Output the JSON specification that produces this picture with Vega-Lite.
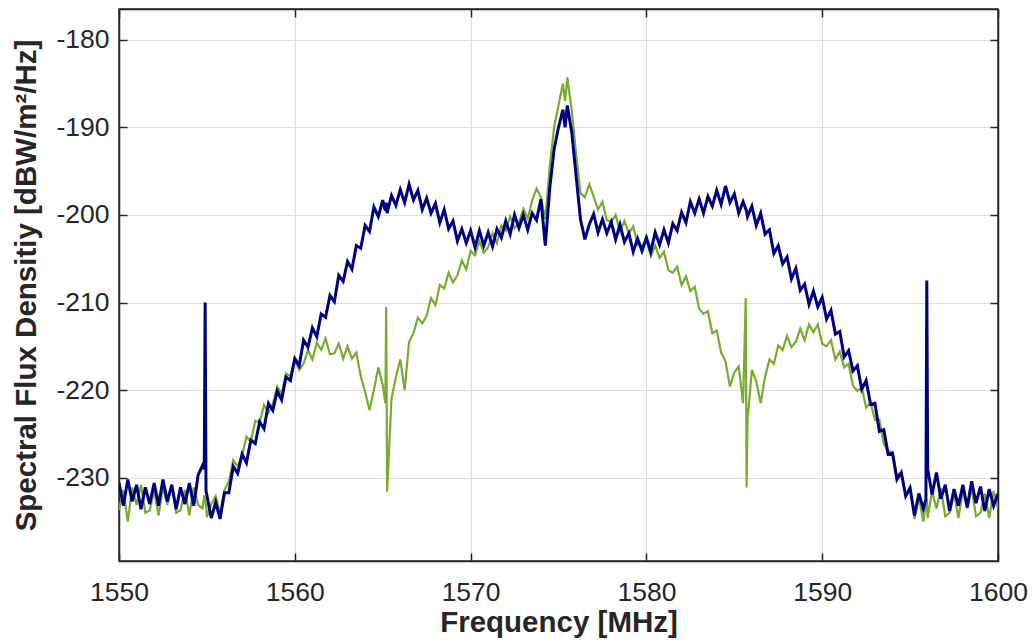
{
 "$schema": "https://vega.github.io/schema/vega-lite/v6.json",
 "width": 879, "height": 552,
 "autosize": "none",
 "padding": {"left": 119, "top": 9, "right": 36, "bottom": 81},
 "background": "white",
 "config": {
  "view": {"stroke": "#262626", "strokeWidth": 1.5},
  "axis": {
   "labelFont": "Liberation Sans", "labelFontSize": 26.5, "labelColor": "#262626",
   "titleFont": "Liberation Sans", "titleFontSize": 29.5, "titleFontWeight": "bold", "titleColor": "#262626",
   "domainColor": "#262626", "domainWidth": 1.5, "tickColor": "#262626", "tickWidth": 1.5, "tickSize": -8,
   "gridColor": "#dedede", "gridWidth": 1.2, "labelFlush": false, "labelBound": false, "labelOverlap": false,
   "labelExpr": "'' + datum.value"
  }
 },
 "data": {"values": [
{"f":1550,"b":-230.6,"g":-233.7},{"f":1550.25,"b":-233.2,"g":-231.4},{"f":1550.5,"b":-230.2,"g":-235.0},{"f":1550.75,"b":-232.7,"g":-231.1},
{"f":1551,"b":-230.8,"g":-233.1},{"f":1551.25,"b":-233.6,"g":-230.8},{"f":1551.5,"b":-231.1,"g":-234.0},{"f":1551.75,"b":-233.0,"g":-233.7},
{"f":1552,"b":-230.6,"g":-231.4},{"f":1552.25,"b":-233.2,"g":-234.3},{"f":1552.5,"b":-230.2,"g":-231.1},{"f":1552.75,"b":-232.7,"g":-233.1},
{"f":1553,"b":-230.8,"g":-230.8},{"f":1553.25,"b":-233.6,"g":-234.0},{"f":1553.5,"b":-231.1,"g":-233.7},{"f":1553.75,"b":-233.0,"g":-231.4},
{"f":1554,"b":-230.6,"g":-234.3},{"f":1554.25,"b":-233.2,"g":-231.1},{"f":1554.5,"b":-229.7,"g":-233.1},{"f":1554.75,"b":-228.6,"g":-233.5},
{"f":1554.85,"b":-229.0,"g":-232.0},{"f":1554.9,"b":-210.0,"g":-232.5},{"f":1554.95,"b":-231.5,"g":-233.0},
{"f":1555,"b":-232.0,"g":-234.5},{"f":1555.25,"b":-234.6,"g":-233.0},{"f":1555.5,"b":-232.8,"g":-232.1},{"f":1555.75,"b":-234.7,"g":-234.0},
{"f":1556,"b":-231.7,"g":-231.4},{"f":1556.25,"b":-231.7,"g":-230.4},{"f":1556.5,"b":-228.7,"g":-228.0},{"f":1556.75,"b":-229.5,"g":-228.7},
{"f":1557,"b":-227.3,"g":-227.5},{"f":1557.25,"b":-228.3,"g":-225.3},{"f":1557.5,"b":-225.7,"g":-225.9},{"f":1557.75,"b":-226.1,"g":-223.5},
{"f":1558,"b":-223.6,"g":-223.7},{"f":1558.25,"b":-224.4,"g":-221.7},{"f":1558.5,"b":-221.5,"g":-222.6},{"f":1558.75,"b":-222.3,"g":-221.6},
{"f":1559,"b":-220.1,"g":-219.6},{"f":1559.25,"b":-221.1,"g":-220.4},{"f":1559.5,"b":-218.5,"g":-218.1},{"f":1559.75,"b":-218.9,"g":-218.4},
{"f":1560,"b":-216.4,"g":-216.5},{"f":1560.25,"b":-217.2,"g":-217.7},{"f":1560.5,"b":-214.3,"g":-217.0},{"f":1560.75,"b":-215.1,"g":-215.4},
{"f":1561,"b":-212.9,"g":-216.5},{"f":1561.25,"b":-213.9,"g":-214.6},{"f":1561.5,"b":-211.3,"g":-215.4},{"f":1561.75,"b":-211.7,"g":-214.1},
{"f":1562,"b":-209.2,"g":-215.9},{"f":1562.25,"b":-209.9,"g":-215.8},{"f":1562.5,"b":-206.9,"g":-214.7},{"f":1562.75,"b":-207.6,"g":-216.4},
{"f":1563,"b":-205.3,"g":-215.0},{"f":1563.25,"b":-206.2,"g":-216.4},{"f":1563.5,"b":-203.5,"g":-215.7},{"f":1563.75,"b":-203.8,"g":-218.4},
{"f":1564,"b":-201.2,"g":-220.2},{"f":1564.25,"b":-201.9,"g":-222.3},{"f":1564.5,"b":-199.1,"g":-220.0},{"f":1564.75,"b":-200.2,"g":-217.4},
{"f":1565,"b":-198.3,"g":-219.4},{"f":1565.15,"b":-199.5,"g":-221.5},{"f":1565.2,"b":-198.6,"g":-210.5},{"f":1565.25,"b":-199.8,"g":-231.6},
{"f":1565.5,"b":-197.8,"g":-221.0},{"f":1565.75,"b":-198.9,"g":-218.5},{"f":1566,"b":-197.1,"g":-216.5},{"f":1566.25,"b":-198.6,"g":-220.0},
{"f":1566.5,"b":-196.5,"g":-214.5},{"f":1566.75,"b":-198.3,"g":-213.5},{"f":1567,"b":-197.2,"g":-211.7},{"f":1567.25,"b":-199.4,"g":-212.4},
{"f":1567.5,"b":-198.1,"g":-211.5},{"f":1567.75,"b":-199.8,"g":-209.5},{"f":1568,"b":-198.7,"g":-210.3},{"f":1568.25,"b":-200.9,"g":-208.0},
{"f":1568.5,"b":-199.4,"g":-208.4},{"f":1568.75,"b":-201.6,"g":-206.6},{"f":1569,"b":-200.7,"g":-207.7},{"f":1569.25,"b":-203.0,"g":-206.9},
{"f":1569.5,"b":-201.6,"g":-205.2},{"f":1569.75,"b":-203.2,"g":-206.2},{"f":1570,"b":-201.8,"g":-204.1},{"f":1570.25,"b":-203.7,"g":-204.6},
{"f":1570.5,"b":-201.8,"g":-203.0},{"f":1570.75,"b":-203.5,"g":-204.3},{"f":1571,"b":-202.0,"g":-203.7},{"f":1571.25,"b":-203.6,"g":-202.1},
{"f":1571.5,"b":-201.6,"g":-203.2},{"f":1571.75,"b":-202.6,"g":-201.2},{"f":1572,"b":-200.7,"g":-201.8},{"f":1572.25,"b":-202.2,"g":-200.2},
{"f":1572.5,"b":-200.0,"g":-201.5},{"f":1572.75,"b":-201.5,"g":-200.9},{"f":1573,"b":-200.0,"g":-199.3},{"f":1573.25,"b":-201.7,"g":-200.4},
{"f":1573.5,"b":-199.8,"g":-198.4},{"f":1573.75,"b":-200.6,"g":-197.0},{"f":1574,"b":-198.2,"g":-198.0},{"f":1574.25,"b":-203.5,"g":-200.5},
{"f":1574.5,"b":-197.0,"g":-194.5},{"f":1574.75,"b":-192.5,"g":-190.0},{"f":1575,"b":-190.0,"g":-187.5},{"f":1575.25,"b":-188.0,"g":-185.0},
{"f":1575.375,"b":-190.0,"g":-187.0},{"f":1575.5,"b":-187.5,"g":-184.3},{"f":1575.75,"b":-190.5,"g":-188.0},{"f":1576,"b":-195.5,"g":-193.0},
{"f":1576.25,"b":-200.5,"g":-197.5},{"f":1576.5,"b":-202.8,"g":-198.0},{"f":1576.75,"b":-201.1,"g":-196.5},{"f":1577,"b":-199.9,"g":-197.9},
{"f":1577.25,"b":-202.0,"g":-199.4},{"f":1577.5,"b":-200.5,"g":-198.5},{"f":1577.75,"b":-202.1,"g":-200.6},{"f":1578,"b":-200.8,"g":-200.8},
{"f":1578.25,"b":-202.8,"g":-200.0},{"f":1578.5,"b":-201.1,"g":-201.9},{"f":1578.75,"b":-203.1,"g":-200.7},{"f":1579,"b":-202.1,"g":-202.1},
{"f":1579.25,"b":-204.2,"g":-201.3},{"f":1579.5,"b":-202.7,"g":-203.4},{"f":1579.75,"b":-204.1,"g":-203.6},{"f":1580,"b":-202.6,"g":-202.8},
{"f":1580.25,"b":-204.2,"g":-204.7},{"f":1580.5,"b":-202.0,"g":-203.5},{"f":1580.75,"b":-203.4,"g":-204.9},{"f":1581,"b":-201.7,"g":-204.2},
{"f":1581.25,"b":-203.2,"g":-206.3},{"f":1581.5,"b":-201.0,"g":-206.6},{"f":1581.75,"b":-201.8,"g":-205.9},{"f":1582,"b":-199.7,"g":-208.0},
{"f":1582.25,"b":-200.9,"g":-207.0},{"f":1582.5,"b":-198.5,"g":-208.7},{"f":1582.75,"b":-199.8,"g":-208.2},{"f":1583,"b":-198.2,"g":-210.7},
{"f":1583.25,"b":-199.8,"g":-211.3},{"f":1583.5,"b":-197.9,"g":-211.0},{"f":1583.75,"b":-199.0,"g":-213.5},{"f":1584,"b":-197.2,"g":-213.2},
{"f":1584.25,"b":-198.8,"g":-215.7},{"f":1584.5,"b":-196.7,"g":-216.7},{"f":1584.75,"b":-198.6,"g":-219.6},{"f":1585,"b":-197.6,"g":-218.0},
{"f":1585.25,"b":-199.8,"g":-217.3},{"f":1585.5,"b":-198.5,"g":-221.5},{"f":1585.65,"b":-199.3,"g":-209.5},{"f":1585.7,"b":-199.6,"g":-231.1},
{"f":1585.75,"b":-200.2,"g":-223.5},{"f":1586,"b":-199.0,"g":-217.7},{"f":1586.25,"b":-201.2,"g":-219.0},{"f":1586.5,"b":-199.8,"g":-221.5},
{"f":1586.75,"b":-202.2,"g":-218.5},{"f":1587,"b":-201.7,"g":-216.5},{"f":1587.25,"b":-204.4,"g":-217.0},{"f":1587.5,"b":-203.5,"g":-214.9},
{"f":1587.75,"b":-205.6,"g":-215.4},{"f":1588,"b":-204.8,"g":-213.8},{"f":1588.25,"b":-207.3,"g":-215.1},{"f":1588.5,"b":-206.1,"g":-214.5},
{"f":1588.75,"b":-208.6,"g":-213.0},{"f":1589,"b":-207.9,"g":-214.3},{"f":1589.25,"b":-210.2,"g":-212.5},{"f":1589.5,"b":-208.7,"g":-213.4},
{"f":1589.75,"b":-210.5,"g":-212.5},{"f":1590,"b":-209.4,"g":-214.7},{"f":1590.25,"b":-211.9,"g":-215.0},{"f":1590.5,"b":-210.9,"g":-214.3},
{"f":1590.75,"b":-213.6,"g":-216.5},{"f":1591,"b":-213.3,"g":-215.6},{"f":1591.25,"b":-216.2,"g":-217.4},{"f":1591.5,"b":-215.5,"g":-217.0},
{"f":1591.75,"b":-217.8,"g":-219.5},{"f":1592,"b":-217.2,"g":-220.1},{"f":1592.25,"b":-219.9,"g":-219.7},{"f":1592.5,"b":-218.9,"g":-222.0},
{"f":1592.75,"b":-221.6,"g":-221.4},{"f":1593,"b":-221.5,"g":-223.4},{"f":1593.25,"b":-224.7,"g":-223.4},{"f":1593.5,"b":-224.5,"g":-226.1},
{"f":1593.75,"b":-227.3,"g":-227.0},{"f":1594,"b":-227.2,"g":-227.0},{"f":1594.25,"b":-230.2,"g":-229.7},{"f":1594.5,"b":-229.4,"g":-229.4},
{"f":1594.75,"b":-232.1,"g":-231.9},{"f":1595,"b":-231.2,"g":-231.0},{"f":1595.25,"b":-234.3,"g":-234.7},{"f":1595.5,"b":-231.8,"g":-232.2},
{"f":1595.75,"b":-233.5,"g":-235.0},{"f":1595.9,"b":-232.5,"g":-233.0},{"f":1595.95,"b":-207.5,"g":-232.5},{"f":1596,"b":-229.0,"g":-234.6},
{"f":1596.25,"b":-231.9,"g":-231.5},{"f":1596.5,"b":-229.4,"g":-233.5},{"f":1596.75,"b":-232.4,"g":-231.2},{"f":1597,"b":-230.8,"g":-234.4},
{"f":1597.25,"b":-233.8,"g":-234.0},{"f":1597.5,"b":-231.3,"g":-231.8},{"f":1597.75,"b":-233.2,"g":-234.6},{"f":1598,"b":-230.8,"g":-231.5},
{"f":1598.25,"b":-233.4,"g":-233.5},{"f":1598.5,"b":-230.4,"g":-231.2},{"f":1598.75,"b":-232.9,"g":-234.4},{"f":1599,"b":-231.0,"g":-234.0},
{"f":1599.25,"b":-233.8,"g":-231.8},{"f":1599.5,"b":-231.3,"g":-234.6},{"f":1599.75,"b":-233.2,"g":-231.5},{"f":1600,"b":-231.8,"g":-233.5}
 ]},
 "layer": [
  {
   "mark": {"type": "line", "color": "#77AC30", "strokeWidth": 2.2, "clip": true},
   "encoding": {
    "x": {"field": "f", "type": "quantitative", "scale": {"domain": [1550, 1600], "nice": false, "zero": false},
          "axis": {"orient": "bottom", "values": [1550,1560,1570,1580,1590,1600], "title": "Frequency [MHz]", "labelPadding": 26, "titlePadding": 3}},
    "y": {"field": "g", "type": "quantitative", "scale": {"domain": [-239.5, -176.5], "nice": false, "zero": false},
          "axis": {"orient": "left", "values": [-230,-220,-210,-200,-190,-180], "title": "Spectral Flux Densitiy [dBW/m²/Hz]", "labelPadding": 18, "titlePadding": 14}}
   }
  },
  {
   "mark": {"type": "line", "color": "#000080", "strokeWidth": 3, "clip": true},
   "encoding": {
    "x": {"field": "f", "type": "quantitative", "axis": null},
    "y": {"field": "b", "type": "quantitative", "axis": null}
   }
  },
  {
   "mark": {"type": "line", "opacity": 0},
   "encoding": {
    "x": {"field": "f", "type": "quantitative", "axis": {"orient": "top", "values": [1550,1560,1570,1580,1590,1600], "labels": false, "grid": false, "title": null}},
    "y": {"field": "b", "type": "quantitative", "axis": {"orient": "right", "values": [-230,-220,-210,-200,-190,-180], "labels": false, "grid": false, "title": null}}
   }
  }
 ],
 "resolve": {"axis": {"x": "independent", "y": "independent"}}
}
